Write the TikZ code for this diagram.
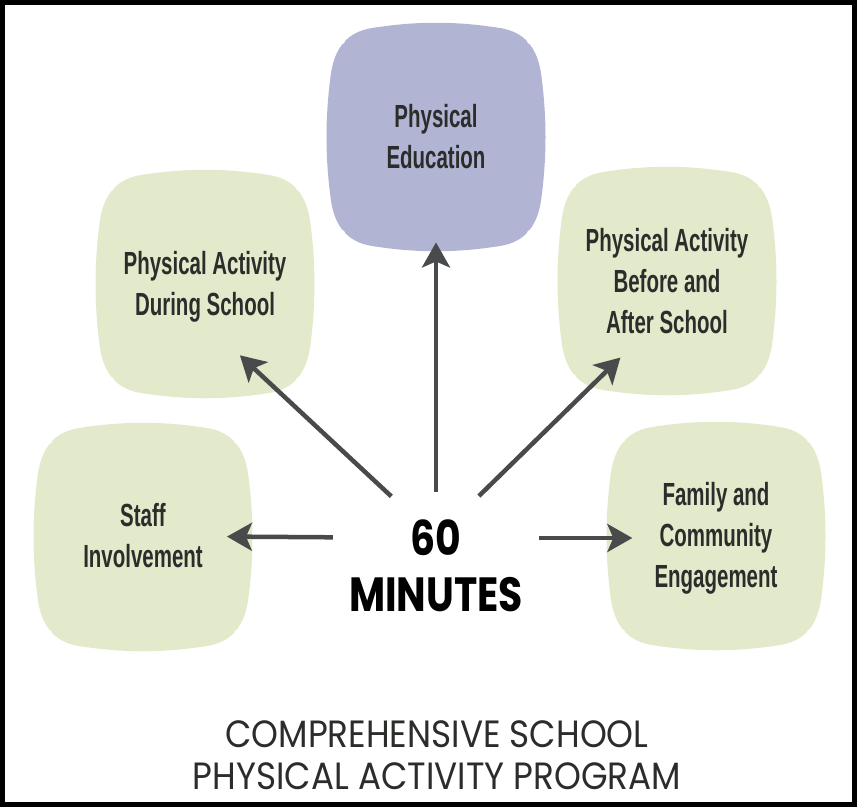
\documentclass[tikz,border=0pt]{standalone}
\usepackage{fontspec}
\usetikzlibrary{positioning,arrows.meta,shapes.geometric}
\newfontfamily\boxfont[FakeStretch=0.64]{Liberation Sans}
\newfontfamily\hubfont[FakeStretch=0.82]{Poppins}
\newfontfamily\titlefont[FakeStretch=0.9]{Poppins}
\definecolor{boxgreen}{RGB}{226,234,203}
\definecolor{boxpurple}{RGB}{178,180,212}
\definecolor{inkgray}{RGB}{42,45,42}
\definecolor{arrowgray}{RGB}{72,74,76}
\tikzset{
  boxtext/.style={align=center, inner sep=4pt, text=inkgray, font=\boxfont\bfseries\fontsize{32}{41}\selectfont},
  hubtext/.style={inner sep=0pt, text=black, font=\hubfont\bfseries\fontsize{48}{52}\selectfont},
  pointer/.style={draw=arrowgray, line width=4.5pt, -{Stealth[length=25pt,width=28pt,inset=6pt]}},
  pics/blob/.style={code={
    \fill[#1] (-64,-109) .. controls (-20,-116) and (20,-116) .. (64,-109)
      .. controls (89,-105) and (101,-89) .. (105,-64)
      .. controls (111,-20) and (111,20) .. (105,64)
      .. controls (101,89) and (89,105) .. (64,109)
      .. controls (20,116) and (-20,116) .. (-64,109)
      .. controls (-89,105) and (-101,89) .. (-105,64)
      .. controls (-111,20) and (-111,-20) .. (-105,-64)
      .. controls (-101,-89) and (-89,-105) .. (-64,-109) -- cycle;
    \foreach \sx/\sy in {1/1,1/-1,-1/1,-1/-1}
      \fill[white] (\sx*94,\sy*96) circle[radius=3pt];
  }}
}

\begin{document}
\begin{tikzpicture}[x=1pt,y=-1pt]
\useasboundingbox (0,0) rectangle (857,807);
\draw[line width=5pt] (2.5,2.5) rectangle (854.5,804.5);

\pic at (436,137) {blob=boxpurple};
\pic at (205,284) {blob=boxgreen};
\pic at (667,281) {blob=boxgreen};
\pic at (143,537) {blob=boxgreen};
\pic at (716,536) {blob=boxgreen};

\node [boxtext] (pe) at (436,137) {Physical\\Education};
\node [boxtext] (during) at (205,287) {Physical Activity\\During School};
\node [boxtext] (before) at (667,281) {Physical Activity\\Before and\\After School};
\node [boxtext] (staff) at (143,536) {Staff\\Involvement};
\node [boxtext] (family) at (716,538) {Family and\\Community\\Engagement};

\node [hubtext, ellipse, minimum width=206pt, minimum height=92pt] (sixty) at (436,538) {60};
\node [hubtext, below=39pt of sixty.center] (minutes) {MINUTES};

\draw [pointer, shorten >=69pt] (sixty) -- (pe);
\draw [pointer, shorten >=42pt] (sixty) -- (during.-84);
\draw [pointer, shorten >=28pt] (sixty) -- (before.-115);
\draw [pointer, shorten >=20pt] (sixty) -- (staff);
\draw [pointer, shorten >=18pt] (sixty) -- (family);

\node [align=center, text=inkgray, font=\titlefont\fontsize{38}{42}\selectfont] (title) at (437,755)
  {COMPREHENSIVE SCHOOL\\PHYSICAL ACTIVITY PROGRAM};
\end{tikzpicture}
\end{document}
